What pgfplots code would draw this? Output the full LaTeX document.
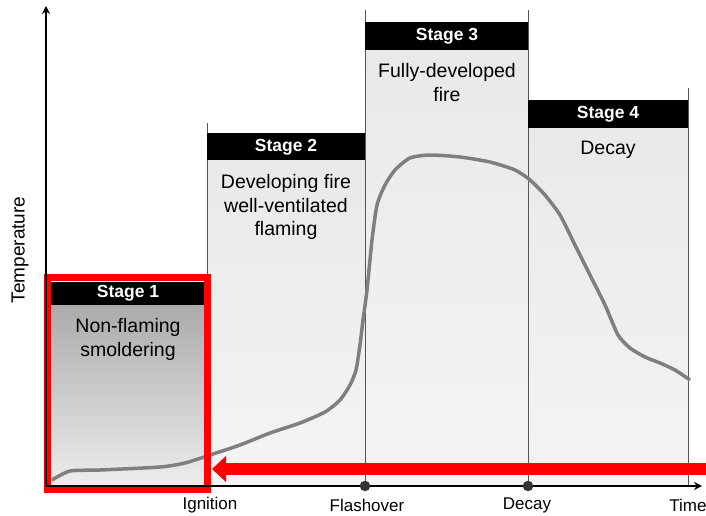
\documentclass[border=0pt]{standalone}
\usepackage{pgfplots}
\pgfplotsset{compat=1.18}
\usepackage{fontspec}
\setmainfont{Liberation Sans}
\usetikzlibrary{arrows.meta}

\definecolor{curvegray}{HTML}{7F7F7F}
\definecolor{edgegray}{HTML}{555555}
\definecolor{s1top}{HTML}{ABABAB}
\definecolor{s1bot}{HTML}{EDEDED}
\definecolor{stop}{HTML}{E9E9E9}
\definecolor{sbot}{HTML}{F4F4F4}

\begin{document}
\begin{tikzpicture}
\begin{axis}[
    x=1pt, y=1pt, y dir=reverse,
    xmin=0, xmax=706, ymin=0, ymax=516,
    hide axis, clip=false,
]
% stage panels (pixel coords, y downwards)
\addplot[draw=none, top color=stop, bottom color=sbot] coordinates {(207,160)(365,160)(365,486)(207,486)} -- cycle;
\addplot[draw=none, top color=stop, bottom color=sbot] coordinates {(365,50)(528,50)(528,486)(365,486)} -- cycle;
\addplot[draw=none, top color=stop, bottom color=sbot] coordinates {(528,128)(688,128)(688,486)(528,486)} -- cycle;
\addplot[draw=none, top color=s1top, bottom color=s1bot] coordinates {(51,305)(204,305)(204,486)(51,486)} -- cycle;

% panel edges
\addplot[edgegray, line width=0.8pt] coordinates {(207,123)(207,486)};
\addplot[edgegray, line width=0.8pt] coordinates {(365,10)(365,486)};
\addplot[edgegray, line width=0.8pt] coordinates {(528,10)(528,486)};
\addplot[edgegray, line width=0.8pt] coordinates {(688,88)(688,486)};

% black headers
\addplot[fill=black, draw=none] coordinates {(207,133)(365,133)(365,160)(207,160)} -- cycle;
\addplot[fill=black, draw=none] coordinates {(365,22)(528,22)(528,50)(365,50)} -- cycle;
\addplot[fill=black, draw=none] coordinates {(528,100)(688,100)(688,128)(528,128)} -- cycle;
\addplot[fill=black, draw=none] coordinates {(51,282)(204,282)(204,305)(51,305)} -- cycle;

% temperature curve
\addplot[curvegray, line width=3.5pt, smooth, tension=0.4] coordinates {
 (52,480)(70,471)(100,470)(160,467)(185,463)(210,455)(240,445)(270,433)
 (300,423)(325,412)(340,400)(350,385)(356,370)(360,345)(363,320)(367,290)
 (372,240)(377,205)(385,185)(395,170)(410,158)(430,155)(460,157)(490,162)
 (515,170)(530,180)(545,195)(560,215)(575,245)(590,275)(605,305)(618,335)
 (630,348)(645,357)(660,363)(675,370)(690,380)
};

% red arrow
\addplot[red, line width=12pt] coordinates {(706,469)(224,469)};
\addplot[fill=red, draw=none] coordinates {(226,456)(212,469)(226,482)} -- cycle;

% red frame round stage 1
\addplot[red, line width=7pt] coordinates {(47,277)(207,277)(207,489)(47,489)} -- cycle;

% axes
\draw[line width=1.5pt, -{Stealth[length=8pt,width=8pt]}] (axis cs:46,487) -- (axis cs:46,6);
\draw[line width=1.5pt, -{Stealth[length=8pt,width=8pt]}] (axis cs:46,486) -- (axis cs:702,486);

% markers on time axis
\addplot[only marks, mark=*, mark size=5pt, color=black!80] coordinates {(365,486)(528,486)};

% texts
\node[white, font=\fontsize{17.5}{19}\selectfont\bfseries] at (axis cs:128,293) {Stage 1};
\node[white, font=\fontsize{17.5}{19}\selectfont\bfseries] at (axis cs:286,147) {Stage 2};
\node[white, font=\fontsize{17.5}{19}\selectfont\bfseries] at (axis cs:447,36) {Stage 3};
\node[white, font=\fontsize{17.5}{19}\selectfont\bfseries] at (axis cs:608,114) {Stage 4};

\node[align=center, font=\fontsize{19.5}{23.5}\selectfont, anchor=north] at (axis cs:128,315) {Non-flaming\\smoldering};
\node[align=center, font=\fontsize{19.5}{23.5}\selectfont, anchor=north] at (axis cs:286,171) {Developing fire\\well-ventilated\\flaming};
\node[align=center, font=\fontsize{19.5}{23.5}\selectfont, anchor=north] at (axis cs:447,60) {Fully-developed\\fire};
\node[align=center, font=\fontsize{19.5}{23.5}\selectfont, anchor=north] at (axis cs:608,138) {Decay};

\node[rotate=90, font=\fontsize{19}{21}\selectfont] at (axis cs:20,250) {Temperature};

\node[font=\fontsize{17}{19}\selectfont] at (axis cs:210,505) {Ignition};
\node[font=\fontsize{17}{19}\selectfont] at (axis cs:367,505) {Flashover};
\node[font=\fontsize{17}{19}\selectfont] at (axis cs:527,505) {Decay};
\node[font=\fontsize{17}{19}\selectfont] at (axis cs:688,505) {Time};
\end{axis}
\pgfresetboundingbox
\path[use as bounding box] (0,0) rectangle (706pt,516pt);
\end{tikzpicture}
\end{document}
